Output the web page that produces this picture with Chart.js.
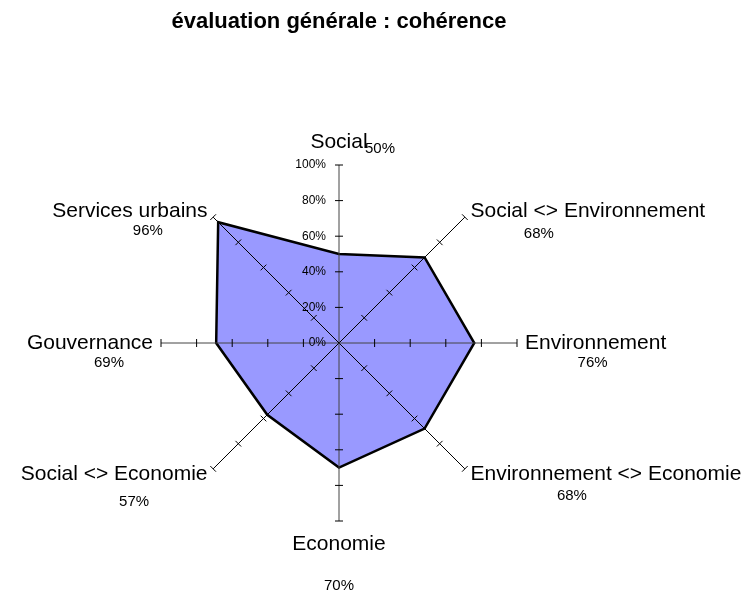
<!DOCTYPE html>
<html>
<head>
<meta charset="utf-8">
<script src="https://cdn.jsdelivr.net/npm/chart.js@4"></script>
<style>
  html, body { margin: 0; padding: 0; background: #fff; }
  #wrap { width: 748px; height: 593px; }
</style>
</head>
<body>
<div id="wrap"><canvas id="radar"></canvas></div>
<script>
const categories = ['Social', 'Social <> Environnement', 'Environnement', 'Environnement <> Economie',
  'Economie', 'Social <> Economie', 'Gouvernance', 'Services urbains'];
const coherence = [50, 68, 76, 68, 70, 57, 69, 96];
const tickValues = [0, 20, 40, 60, 80, 100];

// how far each percentage sits from the centre of its category name (px)
const valueNudge = [[41, 7], [-49, 22], [-3, 20], [-34, 21], [0, 42], [20, 27], [19, 20], [18, 19]];

const FONT = '"Liberation Sans", Arial, sans-serif';

const axisDecor = {
  id: 'axisDecor',
  afterDraw(chart) {
    const r = chart.scales.r;
    const ctx = chart.ctx;
    ctx.save();

    // spokes on top of the filled area, with small cross ticks
    ctx.lineWidth = 1;
    categories.forEach((c, i) => {
      const p0 = r.getPointPositionForValue(i, 0);
      const p1 = r.getPointPositionForValue(i, 100);
      const straight = Math.abs(p1.x - p0.x) < 1 || Math.abs(p1.y - p0.y) < 1;
      ctx.strokeStyle = straight ? '#444' : '#000';
      ctx.beginPath();
      ctx.moveTo(p0.x, p0.y);
      ctx.lineTo(p1.x, p1.y);
      ctx.stroke();
      ctx.strokeStyle = '#000';
      tickValues.slice(1).forEach(v => {
        const p = r.getPointPositionForValue(i, v);
        const nx = -Math.sin(p.angle) * 4, ny = Math.cos(p.angle) * 4;
        ctx.beginPath();
        ctx.moveTo(p.x - nx, p.y - ny);
        ctx.lineTo(p.x + nx, p.y + ny);
        ctx.stroke();
      });
    });

    // scale labels along the first spoke
    ctx.fillStyle = '#000';
    ctx.font = '12px ' + FONT;
    ctx.textAlign = 'right';
    ctx.textBaseline = 'middle';
    tickValues.forEach(v => {
      const p = r.getPointPositionForValue(0, v);
      ctx.fillText(v + '%', p.x - 13, p.y);
    });

    // category names and their values
    categories.forEach((name, i) => {
      const a = r.getPointPosition(i, 1).angle;
      const cos = Math.cos(a);
      ctx.font = '21px ' + FONT;
      const w = ctx.measureText(name).width;
      let p, cx;
      if (Math.abs(cos) < 0.1) {
        p = r.getPointPosition(i, r.drawingArea + 23);
        ctx.textAlign = 'center';
        cx = p.x;
      } else {
        p = r.getPointPosition(i, r.drawingArea + 8);
        ctx.textAlign = cos > 0 ? 'left' : 'right';
        cx = cos > 0 ? p.x + w / 2 : p.x - w / 2;
      }
      ctx.textBaseline = 'middle';
      ctx.fillText(name, p.x, p.y);

      ctx.font = '15px ' + FONT;
      ctx.textAlign = 'center';
      ctx.fillText(coherence[i] + '%', cx + valueNudge[i][0], p.y + valueNudge[i][1]);
    });
    ctx.restore();
  }
};

new Chart(document.getElementById('radar'), {
  type: 'radar',
  data: {
    labels: categories,
    datasets: [{
      data: coherence,
      fill: true,
      backgroundColor: '#9999ff',
      borderColor: '#000',
      borderWidth: 2.5,
      pointRadius: 0,
      tension: 0,
    }],
  },
  options: {
    responsive: true,
    maintainAspectRatio: false,
    animation: false,
    layout: { padding: { left: 0, right: 70, top: 0, bottom: 72 } },
    plugins: {
      legend: { display: false },
      tooltip: { enabled: false },
      title: {
        display: true,
        text: 'évaluation générale : cohérence',
        color: '#000',
        font: { family: FONT, size: 22, weight: 'bold' },
        padding: { top: 9, bottom: 129.6 },
      },
    },
    scales: {
      r: {
        min: 0,
        max: 100,
        ticks: { display: false, stepSize: 20 },
        grid: { display: false },
        angleLines: { display: false },
        pointLabels: { display: false },
      },
    },
  },
  plugins: [axisDecor],
});
</script>
</body>
</html>
